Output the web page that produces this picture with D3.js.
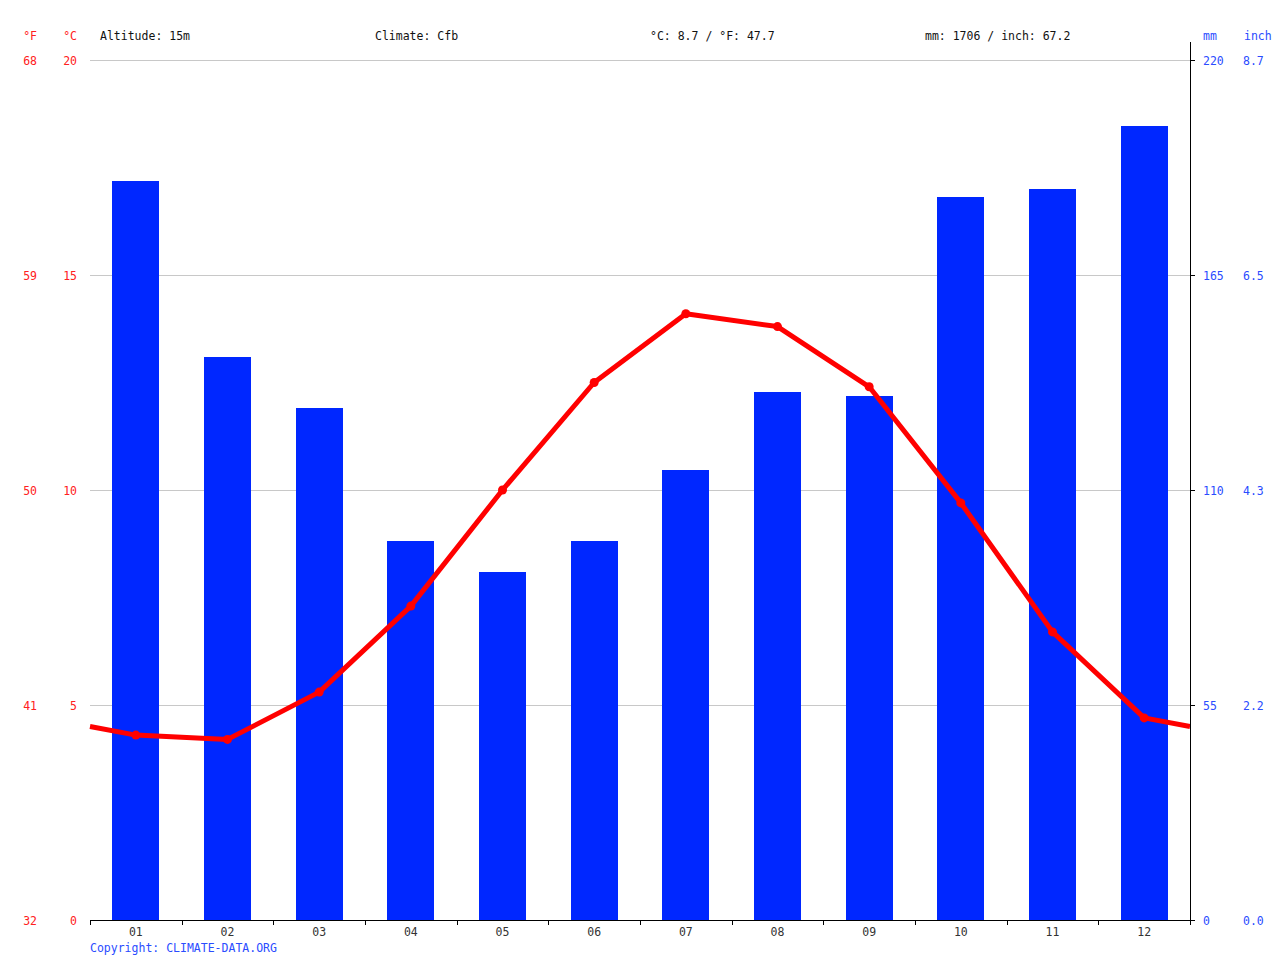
<!DOCTYPE html>
<html><head><meta charset="utf-8">
<script src="https://cdn.jsdelivr.net/npm/d3@7"></script>
<style>body{margin:0;background:#fff}svg{display:block;font-family:"DejaVu Sans Mono",monospace;font-size:11.5px}</style>
</head><body><svg id="c" width="1280" height="960"></svg>
<script>
const months = ["01","02","03","04","05","06","07","08","09","10","11","12"];
const precipMm = [189,144,131,97,89,97,115,135,134,185,187,203];
const tempC = [4.3,4.2,5.3,7.3,10.0,12.5,14.1,13.8,12.4,9.7,6.7,4.7];
const cTicks = [0,5,10,15,20];
const fTicks = [32,41,50,59,68];
const mmTicks = [0,55,110,165,220];
const inchTicks = ["0.0","2.2","4.3","6.5","8.7"];
const infoTexts = ["Altitude: 15m","Climate: Cfb","°C: 8.7 / °F: 47.7","mm: 1706 / inch: 67.2"];

const svg = d3.select("#c");
const L=90,R=1190,T=60,B=920;
const x = d3.scaleBand().domain(months).range([L,R]);
const yC = d3.scaleLinear().domain([0,20]).range([B,T]);
const yMm = d3.scaleLinear().domain([0,220]).range([B,T]);

// grid
svg.append("g").selectAll("line").data(cTicks.slice(1)).join("line")
  .attr("x1",L).attr("x2",R).attr("y1",d=>yC(d)+0.5).attr("y2",d=>yC(d)+0.5)
  .attr("stroke","#c8c8c8").attr("stroke-width",1).attr("shape-rendering","crispEdges");

// bars
const bw = 47;
svg.append("g").selectAll("rect").data(precipMm).join("rect")
  .attr("x",(d,i)=>Math.round(x(months[i])+x.bandwidth()/2-bw/2))
  .attr("width",bw).attr("y",d=>yMm(d)).attr("height",d=>B-yMm(d))
  .attr("fill","#0027ff").attr("shape-rendering","crispEdges");

// temperature line with edge extension
const edge = (tempC[0]+tempC[11])/2;
const pts = [[L,yC(edge)]].concat(tempC.map((d,i)=>[x(months[i])+x.bandwidth()/2,yC(d)])).concat([[R,yC(edge)]]);
svg.append("path").attr("d",d3.line()(pts)).attr("fill","none").attr("stroke","#ff0000")
  .attr("stroke-width",5).attr("stroke-linejoin","round");
svg.append("g").selectAll("circle").data(tempC).join("circle")
  .attr("cx",(d,i)=>x(months[i])+x.bandwidth()/2).attr("cy",d=>yC(d)).attr("r",4.5).attr("fill","#ff0000");

// bottom axis
const bx = svg.append("g").attr("transform",`translate(0,${B})`);
bx.append("line").attr("x1",L).attr("x2",R).attr("y1",0.5).attr("y2",0.5).attr("stroke","#000");
const bounds = d3.range(13).map(i=>L+i*x.step());
bx.selectAll("line.t").data(bounds).join("line").attr("class","t")
  .attr("x1",d=>Math.round(d)+0.5).attr("x2",d=>Math.round(d)+0.5).attr("y1",0).attr("y2",5).attr("stroke","#000");
bx.selectAll("text").data(months).join("text")
  .attr("x",d=>x(d)+x.bandwidth()/2).attr("y",16).attr("text-anchor","middle").attr("fill","#333").text(d=>d);

// right axis
svg.append("line").attr("x1",R+0.5).attr("x2",R+0.5).attr("y1",42).attr("y2",B+1).attr("stroke","#000");
svg.append("g").selectAll("line").data(mmTicks).join("line")
  .attr("x1",R).attr("x2",R+5).attr("y1",d=>Math.round(yMm(d))+0.5).attr("y2",d=>Math.round(yMm(d))+0.5).attr("stroke","#000");
svg.append("g").selectAll("text").data(mmTicks).join("text")
  .attr("x",1203).attr("y",d=>yMm(d)+5).attr("fill","#2a4cff").text(d=>d);
svg.append("g").selectAll("text").data(inchTicks).join("text")
  .attr("x",1243).attr("y",(d,i)=>yMm(mmTicks[i])+5).attr("fill","#2a4cff").text(d=>d);
svg.append("text").attr("x",1203).attr("y",40).attr("fill","#2a4cff").text("mm");
svg.append("text").attr("x",1244).attr("y",40).attr("fill","#2a4cff").text("inch");

// left labels
svg.append("g").selectAll("text").data(cTicks).join("text")
  .attr("x",77).attr("y",d=>yC(d)+5).attr("text-anchor","end").attr("fill","#ff2020").text(d=>d);
svg.append("g").selectAll("text").data(fTicks).join("text")
  .attr("x",37).attr("y",(d,i)=>yC(cTicks[i])+5).attr("text-anchor","end").attr("fill","#ff2020").text(d=>d);
svg.append("text").attr("x",77).attr("y",40).attr("text-anchor","end").attr("fill","#ff2020").text("°C");
svg.append("text").attr("x",37).attr("y",40).attr("text-anchor","end").attr("fill","#ff2020").text("°F");

// info
const infoX=[100,375,650,925];
svg.append("g").selectAll("text").data(infoTexts).join("text")
  .attr("x",(d,i)=>infoX[i]).attr("y",40).attr("fill","#111").text(d=>d);

svg.append("text").attr("x",90).attr("y",952).attr("fill","#2a4cff").text("Copyright: CLIMATE-DATA.ORG");
</script></body></html>
